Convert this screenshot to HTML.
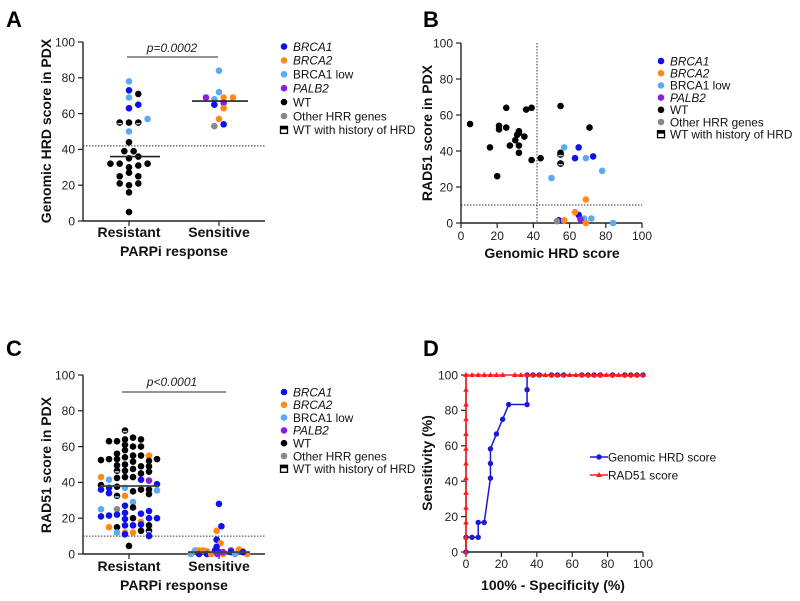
<!DOCTYPE html>
<html><head><meta charset="utf-8"><style>
html,body{margin:0;padding:0;background:#fff;}
svg{display:block;font-family:"Liberation Sans",Arial,sans-serif;}
.tk{font-size:12px;fill:#222;}
.tt{font-size:14px;font-weight:bold;fill:#111;}
.lg{font-size:11.8px;fill:#111;}
.pl{font-size:22px;font-weight:bold;fill:#000;}
</style></head><body>
<svg id="fig" width="800" height="601" viewBox="0 0 800 601" xmlns="http://www.w3.org/2000/svg">
<text class="pl" x="6" y="27">A</text>
<text class="pl" x="423" y="27">B</text>
<text class="pl" x="6" y="356">C</text>
<text class="pl" x="423" y="356">D</text>
</svg>
<script>
// ---------- data ----------
const colorKeys = ['b','o','l','p','k','g','h'];
const legendLabels = ['BRCA1','BRCA2','BRCA1 low','PALB2','WT','Other HRR genes','WT with history of HRD'];
const yTicks = [0,20,40,60,80,100];
const xTicksNum = [0,20,40,60,80,100];
const categories = ['Resistant','Sensitive'];
// Panel A
const aResVals = [78,73,71,69,65,63,57,55,55,55,50,44,39,39,35,36,32,32,30,31,32,27,25,25,21,20,21,16,5];
const aResCols = ['l','b','k','l','b','b','l','h','k','h','l','k','k','k','k','k','k','k','k','k','k','k','k','k','k','k','k','k','k'];
const aResSlot = [0,0,1,0,1,0,2,-1,0,1,0,0,-0.5,0.5,0,1,-2,-1,0,1,2,0,-1,1,-1,0,1,0,0];
const aSenVals = [84,72,69,68,69,69,65,66,63,57,53,54];
const aSenCols = ['l','l','p','l','o','o','b','p','o','o','g','b'];
const aSenSlot = [0,0,-1.4,-0.5,0.5,1.5,-0.5,0.5,0.5,0,-0.5,0.5];
const aMedians = [36,67];
// Panel B
const bX = [5,16,20,21,21,25,25,27,30,31,32,32,32,32,35,36,39,39,44,55,55,55,55,71,50,57,69,78,68,72,84,63,65,73,54,65,69,63,57,69,66,53,55];
const bY = [55,42,26,54,52,64,53,43,46,49,51,50,43,39,48,63,64,35,36,65,39,38,33,53,25,42,36,29,2.5,2.5,0,36,42,37,1.5,4.5,13,6,1.5,0,2,1,33];
const bC = ['k','k','k','k','k','k','k','k','k','k','k','k','k','k','k','k','k','k','k','k','k','h','k','k','l','l','l','l','l','l','l','b','b','b','b','b','o','o','o','o','p','g','h'];
// Panel C
const cResVals = [52.5,43,38.5,36,25,21, 63,53,41.5,37,34,21.5,15, 63,56,53,49.5,46.5,42.5,37.6,32.5,25,22,15,12, 69,64,61,58,54,50,46.5,43,37,32.5,27,23,19.5,16,12,11, 4.5, 65,60,55,51.6,47.5,43,35,29,26,20,16,12, 64,60,55,49,45,41.5,36,22.5,18,13,16.5, 55,52,49,46,41,36,33.5,24,20,16,13,10, 53,39,35.5,20];
const cResCols = ['k','o','k','b','l','b', 'k','k','l','b','b','b','o', 'k','k','k','k','h','k','k','h','g','b','k','l', 'h','k','k','k','k','k','k','k','l','o','b','b','b','b','o','b', 'k', 'k','k','k','k','k','k','k','l','k','k','b','o', 'k','k','k','k','k','b','k','b','o','k','b', 'o','k','k','k','p','k','k','b','b','k','h','b', 'k','b','l','b'];
const cResSlot = [-3.5,-3.5,-3.5,-3.5,-3.5,-3.5, -2.5,-2.5,-2.5,-2.5,-2.5,-2.5,-2.5, -1.5,-1.5,-1.5,-1.5,-1.5,-1.5,-1.5,-1.5,-1.5,-1.5,-1.5,-1.5, -0.5,-0.5,-0.5,-0.5,-0.5,-0.5,-0.5,-0.5,-0.5,-0.5,-0.5,-0.5,-0.5,-0.5,-0.5,-0.5, 0, 0.5,0.5,0.5,0.5,0.5,0.5,0.5,0.5,0.5,0.5,0.5,0.5, 1.5,1.5,1.5,1.5,1.5,1.5,1.5,1.5,1.5,1.5,1.5, 2.5,2.5,2.5,2.5,2.5,2.5,2.5,2.5,2.5,2.5,2.5,2.5, 3.5,3.5,3.5,3.5];
const cSenVals = [28,15.5,13,8,6,4, 0,2,2,0,2,1.5,0,0,2,1,0,1,2,1,0,2,2.5,1.5,0,1,0];
const cSenCols = ['b','b','o','b','o','b', 'l','l','o','b','o','o','b','o','b','b','o','p','p','b','l','l','o','o','o','b','p'];
const cSenSlot = [0,0.3,-0.3,-0.3,0.2,-0.3, -3.5,-3,-2.5,-2.5,-2,-1.5,-1.5,-1,-0.5,0,0.5,0.5,1.5,1.5,2,2.5,2.5,3,3.5,3,-0.2];
const cMedians = [38,1];
// Panel D
const dHrdX = [0,0,3.4,6.9,6.9,10.3,13.8,13.8,13.8,17.2,20.7,24.1,34.5,34.5,34.5,37.9,41.4,48.3,51.7,55.2,65.5,69,72.4,75.9,82.8,89.7,93.1,96.6,100];
const dHrdY = [0,8.3,8.3,8.3,16.7,16.7,41.7,50,58.3,66.7,75,83.3,83.3,91.7,100,100,100,100,100,100,100,100,100,100,100,100,100,100,100];
const dRadX = [0,0,0,0,0,0,0,0,0,0,0,0,0,0,3.4,6.9,10.3,13.8,17.2,20.7,27.6,31,34.5,37.9,41.4,44.8,48.3,51.7,55.2,58.6,62.1,65.5,69,72.4,75.9,79.3,82.8,86.2,89.7,93.1,96.6,100];
const dRadY = [0,8.3,16.7,25,33.3,41.7,50,58.3,66.7,75,83.3,91.7,100,100,100,100,100,100,100,100,100,100,100,100,100,100,100,100,100,100,100,100,100,100,100,100,100,100,100,100,100,100];

// ---------- helpers ----------
const NS='http://www.w3.org/2000/svg';
const svg=document.getElementById('fig');
const COL={b:'#1010ee',o:'#ff8a1a',l:'#5aaaf5',p:'#8a1fe0',k:'#000000',g:'#888888',h:'#000000'};
function mk(tag,attrs,parent){const e=document.createElementNS(NS,tag);for(const k in attrs)e.setAttribute(k,attrs[k]);(parent||svg).appendChild(e);return e;}
function dot(cx,cy,c,name){
  const g=mk('g',{});
  
  
  mk('circle',{cx:cx,cy:cy,r:3.3,fill:COL[c]},g);
  if(c==='h'){mk('rect',{x:cx-2.2,y:cy+0.3,width:4.4,height:1.5,fill:'#9ccbf2'},g);}
  return g;
}
function txt(x,y,s,cls,anchor,name,extra){
  const t=mk('text',Object.assign({x:x,y:y,class:cls,'text-anchor':anchor||'start'},extra||{}));
  t.textContent=s;
  
  
  return t;
}
function line(x1,y1,x2,y2,stroke,w,dash,name){
  const l=mk('line',{x1:x1,y1:y1,x2:x2,y2:y2,stroke:stroke,'stroke-width':w});
  if(dash)l.setAttribute('stroke-dasharray',dash);
  
  
  return l;
}
function yAxis(x,y0,y1,scale,p){
  line(x,y0,x,y1,'#222',1.4,null,p+'-y-axis');
  yTicks.forEach(v=>{const y=scale(v);line(x-5,y,x,y,'#222',1.2,null,p+'-y-tick');txt(x-8,y+4.3,String(v),'tk','end',p+'-y-tick-label');});
}
function legend(x,y0,dy,p){
  legendLabels.forEach((s,i)=>{
    const y=y0+i*dy;
    if(i<6){dot(x,y,colorKeys[i],p+'-legend-marker');}
    else{const r=mk('g',{});
      mk('rect',{x:x-3.5,y:y-3.5,width:7,height:7,fill:'#fff',stroke:'#000','stroke-width':1.3},r);mk('rect',{x:x-3.5,y:y-3.5,width:7,height:3,fill:'#000'},r);}
    const it=(i===0||i===1||i===3)?{'font-style':'italic'}:{};
    txt(x+9,y+4.3,s,'lg','start',p+'-legend-label',it);
  });
}
function rot(x,y,s,name){txt(x,y,s,'tt','middle',name,{transform:'rotate(-90 '+x+' '+y+')'});}

// ---------- Panel A ----------
const yA=v=>221-v*1.79, catA=[129,219], slotW=9.3;
yAxis(83,221,42,yA,'a');
line(83,221,265,221,'#222',1.4,null,'a-x-axis');
categories.forEach((c,i)=>{line(catA[i],221,catA[i],226,'#222',1.2,null,'a-x-tick');txt(catA[i],237,c,'tt','middle','a-x-category-label');});
line(83,yA(42),265,yA(42),'#333',1,'1.5,1.5','a-threshold-line');
aResVals.forEach((v,i)=>dot(catA[0]+aResSlot[i]*slotW,yA(v),aResCols[i],'a-point-resistant'));
aSenVals.forEach((v,i)=>dot(catA[1]+aSenSlot[i]*slotW,yA(v),aSenCols[i],'a-point-sensitive'));
line(110,yA(aMedians[0]),160,yA(aMedians[0]),'#222',1.6,null,'a-median-resistant');
line(192,yA(aMedians[1]),248,yA(aMedians[1]),'#222',1.6,null,'a-median-sensitive');
line(127,57,218,57,'#555',1.2,null,'a-significance-line');
txt(172,52,'p=0.0002','tk','middle','a-p-value',{'font-style':'italic'});
rot(51,131,'Genomic HRD score in PDX','a-y-axis-title');
txt(174,256,'PARPi response','tt','middle','a-x-axis-title');
legend(284,46.5,13.9,'a');

// ---------- Panel B ----------
const xB=v=>461+v*1.81, yB=v=>223-v*1.8;
yAxis(461,223,43,yB,'b');
line(461,223,642,223,'#222',1.4,null,'b-x-axis');
xTicksNum.forEach(v=>{line(xB(v),223,xB(v),228,'#222',1.2,null,'b-x-tick');txt(xB(v),240,String(v),'tk','middle','b-x-tick-label');});
line(xB(42),43,xB(42),223,'#333',1,'1.5,1.5','b-threshold-vertical');
line(461,yB(10),642,yB(10),'#333',1,'1.5,1.5','b-threshold-horizontal');
bX.forEach((v,i)=>dot(xB(v),yB(bY[i]),bC[i],'b-point'));
rot(432,133,'RAD51 score in PDX','b-y-axis-title');
txt(552,258,'Genomic HRD score','tt','middle','b-x-axis-title');
legend(661,61,12.2,'b');

// ---------- Panel C ----------
const yC=v=>554-v*1.79, slotC=8;
yAxis(83,554,375,yC,'c');
line(83,554,265,554,'#222',1.4,null,'c-x-axis');
categories.forEach((c,i)=>{line(catA[i],554,catA[i],559,'#222',1.2,null,'c-x-tick');txt(catA[i],571,c,'tt','middle','c-x-category-label');});
line(83,yC(10),265,yC(10),'#333',1,'1.5,1.5','c-threshold-line');
cResVals.forEach((v,i)=>dot(catA[0]+cResSlot[i]*slotC,yC(v),cResCols[i],'c-point-resistant'));
cSenVals.forEach((v,i)=>dot(catA[1]+cSenSlot[i]*slotC,yC(v),cSenCols[i],'c-point-sensitive'));
line(100,yC(cMedians[0]),159,yC(cMedians[0]),'#444',1.8,null,'c-median-resistant');
line(188,yC(cMedians[1]),250,yC(cMedians[1]),'#444',1.8,null,'c-median-sensitive');
line(122,392,226,392,'#555',1.2,null,'c-significance-line');
txt(172,386,'p<0.0001','tk','middle','c-p-value',{'font-style':'italic'});
rot(51,465,'RAD51 score in PDX','c-y-axis-title');
txt(174,590,'PARPi response','tt','middle','c-x-axis-title');
legend(284,392,12.8,'c');

// ---------- Panel D ----------
const xD=v=>466+v*1.77, yD=v=>552-v*1.77;
yAxis(466,552,375,yD,'d');
line(466,552,643,552,'#222',1.4,null,'d-x-axis');
xTicksNum.forEach(v=>{line(xD(v),552,xD(v),557,'#222',1.2,null,'d-x-tick');txt(xD(v),568,String(v),'tk','middle','d-x-tick-label');});
function series(xs,ys,color,name,marker){
  const pts=xs.map((v,i)=>xD(v)+','+yD(ys[i])).join(' ');
  const pl=mk('polyline',{points:pts,fill:'none',stroke:color,'stroke-width':1.5});
  
  
  xs.forEach((v,i)=>{
    const x=xD(v),y=yD(ys[i]);
    const m= marker==='c'? mk('circle',{cx:x,cy:y,r:2.7,fill:color}) : mk('polygon',{points:(x)+','+(y-3)+' '+(x-2.8)+','+(y+2)+' '+(x+2.8)+','+(y+2),fill:color});
    
    
  });
}
series(dHrdX,dHrdY,'#1a1ad6','d-genomic-hrd','c');
series(dRadX,dRadY,'#ff1a1a','d-rad51','t');
rot(432,463,'Sensitivity (%)','d-y-axis-title');
txt(553,590,'100% - Specificity (%)','tt','middle','d-x-axis-title');
line(590,457,608,457,'#1a1ad6',1.5,null,'d-legend-line-hrd');
(function(){const c=mk('circle',{cx:599,cy:457,r:2.7,fill:'#1a1ad6'});})();
txt(608,461.5,'Genomic HRD score','lg','start','d-legend-label-hrd');
line(590,475,608,475,'#ff1a1a',1.5,null,'d-legend-line-rad51');
(function(){const p=mk('polygon',{points:'599,472 596.2,477 601.8,477',fill:'#ff1a1a'});})();
txt(608,479.5,'RAD51 score','lg','start','d-legend-label-rad51');
</script>
</body></html>
